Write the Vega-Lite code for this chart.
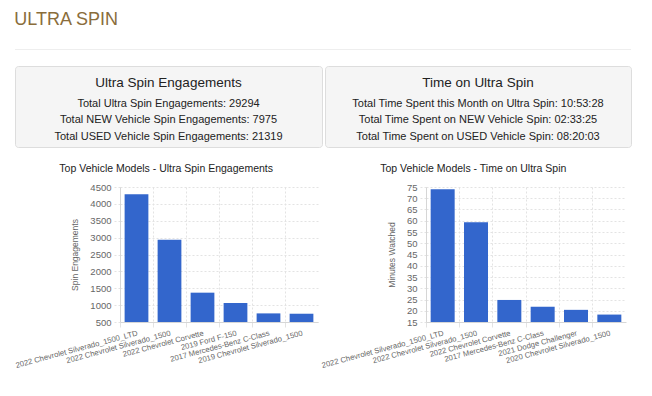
{
  "$schema": "https://vega.github.io/schema/vega-lite/v6.json",
  "background": "white",
  "padding": {"left": 14, "top": 11, "right": 0, "bottom": 0},
  "title": {"text": "ULTRA SPIN", "anchor": "start", "fontSize": 18, "fontWeight": "normal", "color": "#8a6d3b", "offset": 20, "font": "Liberation Sans"},
  "datasets": {
    "engagements": [
      {"model": "2022 Chevrolet Silverado_1500_LTD", "engagements": 4283},
      {"model": "2022 Chevrolet Silverado_1500", "engagements": 2940},
      {"model": "2022 Chevrolet Corvette", "engagements": 1369},
      {"model": "2019 Ford F-150", "engagements": 1063},
      {"model": "2017 Mercedes-Benz C-Class", "engagements": 755},
      {"model": "2019 Chevrolet Silverado_1500", "engagements": 745}
    ],
    "minutes": [
      {"model": "2022 Chevrolet Silverado_1500_LTD", "minutes": 74.0},
      {"model": "2022 Chevrolet Silverado_1500", "minutes": 59.3},
      {"model": "2022 Chevrolet Corvette", "minutes": 24.8},
      {"model": "2017 Mercedes-Benz C-Class", "minutes": 21.8},
      {"model": "2021 Dodge Challenger", "minutes": 20.4},
      {"model": "2020 Chevrolet Silverado_1500", "minutes": 18.3}
    ],
    "header1": [
      {"line": 0, "kind": "title", "text": "Ultra Spin Engagements"},
      {"line": 1, "kind": "stat", "text": "Total Ultra Spin Engagements: 29294"},
      {"line": 2, "kind": "stat", "text": "Total NEW Vehicle Spin Engagements: 7975"},
      {"line": 3, "kind": "stat", "text": "Total USED Vehicle Spin Engagements: 21319"}
    ],
    "header2": [
      {"line": 0, "kind": "title", "text": "Time on Ultra Spin"},
      {"line": 1, "kind": "stat", "text": "Total Time Spent this Month on Ultra Spin: 10:53:28"},
      {"line": 2, "kind": "stat", "text": "Total Time Spent on NEW Vehicle Spin: 02:33:25"},
      {"line": 3, "kind": "stat", "text": "Total Time Spent on USED Vehicle Spin: 08:20:03"}
    ]
  },
  "spacing": 15,
  "vconcat": [
    {
      "width": 616, "height": 1,
      "view": {"fill": "#eeeeee", "stroke": null},
      "data": {"values": []},
      "mark": "text",
      "encoding": {}
    },
    {
      "spacing": 1,
      "hconcat": [
        {
          "width": 307, "height": 81,
          "view": {"fill": "#f5f5f5", "stroke": "#dddddd", "cornerRadius": 3},
          "data": {"name": "header1"},
          "encoding": {
            "y": {"field": "line", "type": "ordinal", "axis": null, "scale": {"type": "point", "domain": [0, 1, 2, 3], "range": [21, 71], "padding": 0}},
            "text": {"field": "text"}
          },
          "layer": [
            {"transform": [{"filter": "datum.kind === 'title'"}], "mark": {"type": "text", "fontSize": 13.5, "color": "#222", "baseline": "middle", "dy": -4}},
            {"transform": [{"filter": "datum.kind === 'stat'"}], "mark": {"type": "text", "fontSize": 11, "color": "#222", "baseline": "middle"}}
          ]
        },
        {
          "width": 306, "height": 81,
          "view": {"fill": "#f5f5f5", "stroke": "#dddddd", "cornerRadius": 3},
          "data": {"name": "header2"},
          "encoding": {
            "y": {"field": "line", "type": "ordinal", "axis": null, "scale": {"type": "point", "domain": [0, 1, 2, 3], "range": [21, 71], "padding": 0}},
            "text": {"field": "text"}
          },
          "layer": [
            {"transform": [{"filter": "datum.kind === 'title'"}], "mark": {"type": "text", "fontSize": 13.5, "color": "#222", "baseline": "middle", "dy": -4}},
            {"transform": [{"filter": "datum.kind === 'stat'"}], "mark": {"type": "text", "fontSize": 11, "color": "#222", "baseline": "middle"}}
          ]
        }
      ]
    },
    {
      "spacing": 0,
      "bounds": "flush",
      "hconcat": [
        {
          "width": 104.5, "height": 1,
          "view": {"fill": null, "stroke": null},
          "data": {"values": []},
          "mark": "text",
          "encoding": {}
        },
        {
          "width": 198, "height": 135,
          "title": {"text": "Top Vehicle Models - Ultra Spin Engagements", "frame": "bounds", "anchor": "middle", "fontSize": 10.5, "fontWeight": "normal", "color": "#222", "offset": 8},
          "data": {"name": "engagements"},
          "mark": {"type": "bar", "color": "#3366cc"},
          "encoding": {
            "x": {
              "field": "model", "type": "nominal", "sort": null,
              "scale": {"paddingInner": 0.28, "paddingOuter": 0.14},
              "axis": {"title": null, "bandPosition": -0.194, "labelAngle": -15, "labelAlign": "right", "labelBaseline": "top", "labelFontSize": 7.7, "labelColor": "#666", "labelPadding": 2, "labelOverlap": false, "grid": true, "gridDash": [2, 2], "gridColor": "#e3e3e3", "tickSize": 5, "tickColor": "#e3e3e3", "domainColor": "#d6d6d6"}
            },
            "y": {
              "field": "engagements", "type": "quantitative",
              "scale": {"domain": [500, 4500], "nice": false, "zero": false},
              "axis": {"title": "Spin Engagements", "format": "d", "values": [500, 1000, 1500, 2000, 2500, 3000, 3500, 4000, 4500], "labelFontSize": 9.5, "labelColor": "#666", "titleColor": "#666", "titleFontSize": 8.5, "titleFontWeight": "normal", "titlePadding": 10, "grid": true, "gridDash": [2, 2], "gridColor": "#e3e3e3", "tickSize": 6, "tickColor": "#e3e3e3", "tickDash": [2, 2], "domainColor": "#d6d6d6", "labelPadding": 3}
            },
            "y2": {"datum": 500}
          }
        },
        {
          "width": 108, "height": 1,
          "view": {"fill": null, "stroke": null},
          "data": {"values": []},
          "mark": "text",
          "encoding": {}
        },
        {
          "width": 200, "height": 135,
          "title": {"text": "Top Vehicle Models - Time on Ultra Spin", "frame": "bounds", "anchor": "middle", "fontSize": 10.5, "fontWeight": "normal", "color": "#222", "offset": 8},
          "data": {"name": "minutes"},
          "mark": {"type": "bar", "color": "#3366cc"},
          "encoding": {
            "x": {
              "field": "model", "type": "nominal", "sort": null,
              "scale": {"paddingInner": 0.28, "paddingOuter": 0.14},
              "axis": {"title": null, "bandPosition": -0.194, "labelAngle": -15, "labelAlign": "right", "labelBaseline": "top", "labelFontSize": 7.7, "labelColor": "#666", "labelPadding": 2, "labelOverlap": false, "grid": true, "gridDash": [2, 2], "gridColor": "#e3e3e3", "tickSize": 5, "tickColor": "#e3e3e3", "domainColor": "#d6d6d6"}
            },
            "y": {
              "field": "minutes", "type": "quantitative",
              "scale": {"domain": [15, 75], "nice": false, "zero": false},
              "axis": {"title": "Minutes Watched", "format": "d", "values": [15, 20, 25, 30, 35, 40, 45, 50, 55, 60, 65, 70, 75], "labelFontSize": 9.5, "labelColor": "#666", "titleColor": "#666", "titleFontSize": 8.5, "titleFontWeight": "normal", "titlePadding": 10, "grid": true, "gridDash": [2, 2], "gridColor": "#e3e3e3", "tickSize": 6, "tickColor": "#e3e3e3", "tickDash": [2, 2], "domainColor": "#d6d6d6", "labelPadding": 3}
            },
            "y2": {"datum": 15}
          }
        }
      ]
    }
  ],
  "config": {
    "font": "Liberation Sans",
    "view": {"stroke": null},
    "axis": {"labelFont": "Liberation Sans", "titleFont": "Liberation Sans"},
    "title": {"font": "Liberation Sans"}
  }
}
